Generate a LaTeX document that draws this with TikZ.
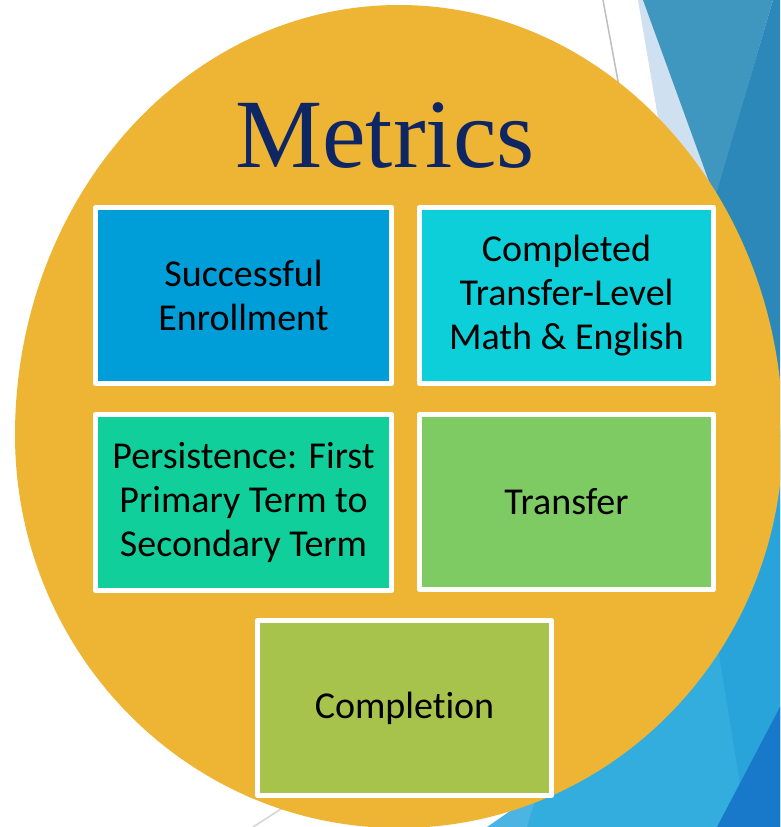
\documentclass[tikz,border=0pt]{standalone}
\usepackage{fontspec}
\setmainfont{Carlito}[Ligatures=NoCommon]
\newfontfamily\titlefont{Liberation Serif}
\definecolor{gold}{RGB}{238,181,52}
\definecolor{navytitle}{RGB}{14,38,100}
\definecolor{cOne}{RGB}{0,158,217}
\definecolor{cTwo}{RGB}{12,207,217}
\definecolor{cThree}{RGB}{17,207,155}
\definecolor{cFour}{RGB}{126,203,100}
\definecolor{cFive}{RGB}{168,195,75}
\definecolor{sliver}{RGB}{207,224,241}
\definecolor{steel}{RGB}{63,150,190}
\definecolor{darkteal}{RGB}{44,136,184}
\definecolor{blueA}{RGB}{51,172,222}
\definecolor{blueB}{RGB}{41,164,219}
\definecolor{blueC}{RGB}{24,120,201}
\definecolor{blueD}{RGB}{75,180,227}
\definecolor{grayA}{RGB}{190,190,190}
\definecolor{grayB}{RGB}{212,212,212}
\begin{document}
\begin{tikzpicture}[x=1pt,y=-1pt,
  box/.style={draw=white, line width=5pt, minimum width=296pt, minimum height=176pt,
    inner sep=0pt, outer sep=0pt, align=center, text=black, line join=round,
    font=\fontsize{38}{44}\selectfont}]
\useasboundingbox (0,0) rectangle (780,827);
\clip (0,0) rectangle (780,827);
\fill[white] (0,0) rectangle (780,827);
% thin background lines
\draw[line width=1.5pt, grayA] (603,0) -- (640,200);
\draw[line width=1.5pt, grayB] (253,827) -- (340,771);
% background facets, top right
\fill[sliver] (638,0) -- (700,0) -- (730,230) -- (677,230) -- cycle;
\fill[darkteal] (773,0) -- (780,0) -- (780,470) -- (690,280) -- cycle;
\fill[steel] (643,0) -- (773,0) -- (715,198) -- cycle;
% background facets, bottom right
\fill[blueD] (487,827) -- (620,735) -- (640,827) -- cycle;
\fill[blueA] (527,827) -- (560,720) -- (780,430) -- (780,827) -- cycle;
\fill[blueB] (699,530) -- (780,470) -- (780,827) -- (747,827) -- cycle;
\fill[blueC] (780,707) -- (780,827) -- (717,827) -- cycle;
% gold disc (upper and lower halves)
\begin{scope}
  \clip (0,0) rectangle (780,436);
  \fill[gold] (399,435) ellipse [x radius=384pt, y radius=430pt];
\end{scope}
\begin{scope}
  \clip (0,435) rectangle (780,827);
  \fill[gold] (399,435) ellipse [x radius=384pt, y radius=393pt];
\end{scope}
% title
\node[font=\titlefont\fontsize{98}{98}\selectfont, text=navytitle, anchor=base, inner sep=0pt] (title) at (385,167) {Metrics};
% boxes
\node[box, fill=cOne] (b1) at (243.5,295.5) {Successful\\Enrollment};
\node[box, fill=cTwo, minimum width=294pt] (b2) at (566.5,295.5) {Completed\\Transfer-Level\\Math \& English};
\node[box, fill=cThree] (b3) at (243.5,502.5) {Persistence: First\\Primary Term to\\Secondary Term};
\node[box, fill=cFour, minimum width=294pt, minimum height=175pt] (b4) at (566.5,502) {Transfer};
\node[box, fill=cFive, minimum width=294pt, minimum height=175pt] (b5) at (404.5,708) {Completion};
\end{tikzpicture}
\end{document}
